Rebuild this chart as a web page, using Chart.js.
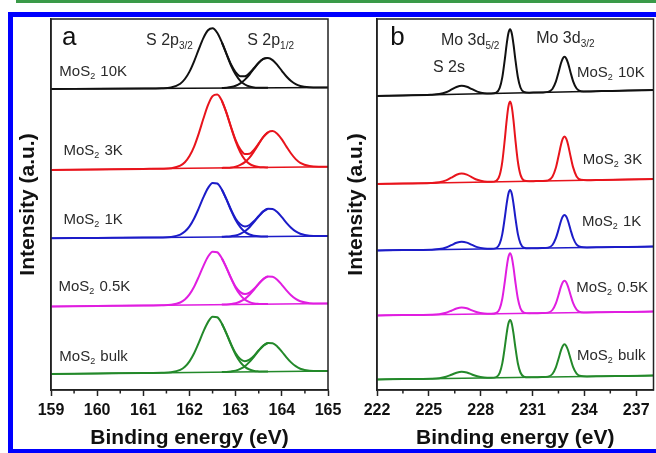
<!DOCTYPE html>
<html><head><meta charset="utf-8">
<script src="https://cdn.jsdelivr.net/npm/chart.js@4"></script>
<style>
html,body{margin:0;padding:0;background:#fff;}
#wrap{position:relative;width:656px;height:453px;overflow:hidden;background:#fff;}
#gline{position:absolute;left:16px;top:0;width:640px;height:3px;background:#3a9a48;}
#frame{position:absolute;left:8px;top:12px;width:700px;height:441px;box-sizing:border-box;border:5px solid #0000ff;border-right:none;border-bottom-width:4px;}
#ca{position:absolute;left:0;top:0;}
#cb{position:absolute;left:330px;top:0;}
</style></head><body>
<div id="wrap"><div id="gline"></div><div id="frame"></div>
<canvas id="ca" width="350" height="453"></canvas>
<canvas id="cb" width="326" height="453"></canvas></div>
<script>
// ---------- Panel a : S 2p region ----------
const energyA = [159,160,161,161.4,161.6,161.8,161.9,162.0,162.1,162.2,162.3,162.4,162.5,162.6,162.7,162.8,162.9,163.0,163.1,163.2,163.3,163.4,163.5,163.6,163.7,163.8,163.9,164.0,164.1,164.2,164.3,164.4,164.6,164.8,165];
const s2p10K  = [301,301.25,301.5,301.7,302.5,306.3,311.0,318.4,328.7,340.6,351.9,359.7,361.8,357.3,347.8,336.4,325.5,317.7,313.7,313.8,316.9,322.0,327.4,331.1,332.1,329.9,325.1,319.2,313.5,309.0,305.8,304.0,302.7,302.45,302.5];
const s2p3K   = [220,220.6,221.1,221.3,221.8,224.3,227.7,233.9,243.4,256.4,271.2,284.9,293.9,295.6,289.4,277.4,263.0,249.9,240.6,236.0,236.2,240.4,246.6,253.2,257.7,259.0,256.3,250.6,243.4,236.5,230.9,227.2,223.9,223.2,223.3];
const s2p1K   = [151.7,152.1,152.5,152.6,153.1,155.4,158.4,163.6,171.5,181.6,192.6,201.9,207.0,206.5,200.5,190.8,180.3,171.3,165.7,163.6,165.0,169.0,174.0,178.7,181.2,180.9,177.9,172.8,167.2,162.3,158.6,156.3,154.3,154.0,154.0];
const s2p05K  = [83.5,84.0,84.5,84.7,85.2,87.5,90.5,95.6,103.3,113.2,123.9,133.2,138.3,137.7,131.8,122.4,112.1,103.3,97.9,95.9,97.4,101.3,106.4,111.0,113.6,113.3,110.3,105.2,99.7,94.8,91.1,88.7,86.8,86.5,86.5];
const s2pBulk = [16.0,16.5,17.0,17.2,17.7,20.1,23.2,28.6,36.7,47.1,58.4,67.9,73.3,72.7,66.5,56.6,45.9,36.7,30.9,28.8,30.4,34.4,39.7,44.4,47.1,46.8,43.6,38.4,32.7,27.6,23.8,21.3,19.3,19.0,19.0];
// fitted components near the overlap
const energyAFit = [162.7,162.8,162.9,163.0,163.1,163.2,163.3,163.4,163.5,163.6,163.7];
const fit32_10K  = [347.7,336.0,324.5,315.4,309.1,305.5,303.5,302.6,302.3,302.15,302.18];
const fit12_10K  = [302.0,302.35,303.0,304.3,306.6,310.4,315.5,321.5,327.2,331.1,332.1];
const fit32_3K   = [289.3,277.2,262.5,248.7,237.8,230.4,226.1,224.0,223.0,222.7,222.5];
const fit12_3K   = [222.1,222.3,222.6,223.4,225.1,227.9,232.4,238.8,246.0,253.0,257.7];
const fit32_1K   = [200.4,190.6,179.7,170.0,162.8,158.1,155.5,154.3,153.7,153.5,153.5];
const fit12_1K   = [153.2,153.4,153.8,154.5,156.2,158.8,162.8,168.1,173.7,178.6,181.2];
const fit32_05K  = [131.8,122.2,111.6,102.0,95.0,90.4,87.9,86.6,86.1,85.9,85.9];
const fit12_05K  = [85.4,85.6,86.0,86.8,88.5,91.1,95.2,100.4,106.1,110.9,113.6];
const fit32_bulk = [66.5,56.4,45.3,35.3,27.9,23.1,20.5,19.1,18.6,18.4,18.4];
const fit12_bulk = [17.9,18.1,18.6,19.4,21.1,23.8,28.1,33.5,39.4,44.3,47.1];
const energyABase = [159,165];
const baseA10K = [301,302.5], baseA3K = [220,223.3], baseA1K = [151.7,154], baseA05K = [83.5,86.5], baseABulk = [16,19];

// ---------- Panel b : Mo 3d / S 2s region ----------
const energyB = [222,223.5,225.1,225.6,226.0,226.3,226.6,226.9,227.2,227.5,227.8,228.2,228.6,228.9,229.1,229.25,229.4,229.5,229.6,229.7,229.8,229.9,230.0,230.15,230.3,230.5,230.8,231.2,231.55,231.9,232.15,232.35,232.5,232.65,232.75,232.85,232.95,233.05,233.2,233.35,233.55,233.8,234.15,235,236.5,238];
const mo10K  = [294.0,294.6,295.2,295.9,297.7,300.3,303.0,304.3,303.3,300.8,298.4,296.8,296.6,297.4,302.1,312.6,331.2,345.3,356.5,360.7,356.5,345.5,331.4,313.0,302.5,298.0,297.3,297.5,297.6,298.1,301.0,308.3,317.3,327.0,331.5,333.3,331.6,327.1,317.6,308.7,301.5,298.8,298.6,298.9,299.4,300.0];
const mo3K   = [206.0,206.5,207.0,207.7,209.6,212.3,215.2,216.5,215.4,212.7,210.2,208.5,208.2,209.2,215.0,228.2,251.4,269.1,283.1,288.4,283.1,269.3,251.6,228.5,215.4,209.7,208.8,208.9,209.0,209.6,213.2,222.2,233.5,245.5,251.3,253.4,251.3,245.7,233.7,222.6,213.6,210.2,209.8,210.1,210.5,211.0];
const mo1K   = [139.5,139.9,140.3,140.9,142.5,144.8,147.2,148.3,147.4,145.1,142.9,141.5,141.2,141.9,146.3,155.9,173.0,185.9,196.1,200.0,196.2,186.0,173.1,156.1,146.6,142.3,141.7,141.8,141.9,142.4,145.0,151.8,160.1,169.2,173.4,175.0,173.4,169.3,160.3,152.0,145.4,142.9,142.5,142.75,143.1,143.5];
const mo05K  = [74.5,74.9,75.3,75.8,77.3,79.3,81.5,82.5,81.7,79.6,77.7,76.5,76.2,77.0,81.4,91.3,108.9,122.2,132.7,136.7,132.8,122.3,109.0,91.5,81.7,77.4,76.7,76.8,76.9,77.4,80.0,86.6,94.8,103.6,107.8,109.3,107.8,103.7,95.0,86.8,80.3,77.8,77.5,77.75,78.1,78.5];
const moBulk = [10.5,10.9,11.3,11.8,13.2,15.2,17.3,18.3,17.5,15.5,13.7,12.5,12.2,12.9,17.2,26.6,43.4,56.2,66.2,70.0,66.3,56.3,43.5,26.8,17.5,13.3,12.7,12.8,12.9,13.4,16.0,22.7,31.0,39.9,44.1,45.7,44.1,40.0,31.2,22.9,16.4,13.9,13.5,13.75,14.1,14.5];
const energyBBase = [222,238];
const baseB10K = [294,300], baseB3K = [206,211], baseB1K = [139.5,143.5], baseB05K = [74.5,78.5], baseBBulk = [10.5,14.5];

// ---------- tick labels / text ----------
const xTitle = 'Binding energy (eV)';
const yTitle = 'Intensity (a.u.)';
const sampleNames = ['MoS|2| 10K','MoS|2| 3K','MoS|2| 1K','MoS|2| 0.5K','MoS|2| bulk'];

const annotationsA = [
  {text:'a', x:159.24, y:345, size:26, color:'#111'},
  {text:'S 2p|3/2|', x:161.06, y:345, size:16},
  {text:'S 2p|1/2|', x:163.25, y:345, size:16},
  {text:sampleNames[0], x:159.18, y:314, size:15},
  {text:sampleNames[1], x:159.27, y:235, size:15},
  {text:sampleNames[2], x:159.27, y:166, size:15},
  {text:sampleNames[3], x:159.16, y:99, size:15},
  {text:sampleNames[4], x:159.18, y:29, size:15}
];
const annotationsB = [
  {text:'b', x:222.77, y:345, size:26, color:'#111'},
  {text:'Mo 3d|5/2|', x:225.70, y:345, size:16},
  {text:'Mo 3d|3/2|', x:231.21, y:347, size:16},
  {text:'S 2s', x:225.24, y:318, size:16},
  {text:sampleNames[0], x:233.57, y:313, size:15},
  {text:sampleNames[1], x:233.91, y:226, size:15},
  {text:sampleNames[2], x:233.86, y:164, size:15},
  {text:sampleNames[3], x:233.53, y:98, size:15},
  {text:sampleNames[4], x:233.57, y:30, size:15}
];

const FONT = '"Liberation Sans", Arial, Helvetica, sans-serif';
const COL = {k:'#111111', r:'#e8141c', b:'#1c1cc8', m:'#e01ee0', g:'#23892a'};

function pts(xs, ys){ return xs.map((x,i)=>({x:x, y:ys[i]})); }
function ln(xs, ys, color, w){
  return {data:pts(xs,ys), borderColor:color, backgroundColor:color, borderWidth:w||2,
    pointRadius:0, fill:false, cubicInterpolationMode:'monotone', tension:0};
}

const decorPlugin = {
  id:'decor',
  afterDraw(chart, args, opts){
    const {ctx, chartArea:a, scales} = chart;
    ctx.save();
    // minor ticks (from the scale's own ticks)
    const xs = scales.x;
    ctx.strokeStyle = '#222'; ctx.lineWidth = 1.5;
    xs.ticks.forEach(t => {
      if (!opts.isMajor(t.value)) {
        const px = xs.getPixelForValue(t.value);
        ctx.beginPath(); ctx.moveTo(px, a.bottom); ctx.lineTo(px, a.bottom + 3.5); ctx.stroke();
      }
    });
    // frame
    ctx.strokeRect(a.left, a.top, a.right - a.left, a.bottom - a.top);
    // text labels
    const ys = scales.y;
    opts.labels.forEach(l => {
      let px = xs.getPixelForValue(l.x);
      const py = ys.getPixelForValue(l.y);
      ctx.fillStyle = l.color || '#2a2a2a';
      ctx.textBaseline = 'alphabetic'; ctx.textAlign = 'left';
      const parts = l.text.split('|');
      parts.forEach((p, i) => {
        if (!p) return;
        const sub = i % 2 === 1;
        const sz = sub ? Math.round(l.size * 0.62) : l.size;
        ctx.font = sz + 'px ' + FONT;
        ctx.fillText(p, px, sub ? py + l.size * 0.22 : py);
        px += ctx.measureText(p).width + (sub ? 1 : 0);
      });
    });
    ctx.restore();
  }
};

function makeChart(id, datasets, xmin, xmax, step, isMajor, yW, yTitlePad, padRight, labels){
  return new Chart(document.getElementById(id), {
    type:'line',
    data:{datasets:datasets},
    options:{
      responsive:false, animation:false, events:[],
      layout:{autoPadding:false, padding:{left:0, top:19, right:padRight, bottom:0}},
      plugins:{legend:{display:false}, tooltip:{enabled:false}, decor:{labels:labels, isMajor:isMajor}},
      scales:{
        x:{type:'linear', min:xmin, max:xmax,
          afterFit:s=>{s.height = 63;},
          border:{display:true, color:'#222', width:1.5},
          grid:{display:true, drawOnChartArea:false, drawTicks:true, tickLength:6, tickWidth:1.5,
                tickColor:c => isMajor(c.tick.value) ? '#222' : 'rgba(0,0,0,0)'},
          ticks:{stepSize:step, includeBounds:false, autoSkip:false, maxRotation:0, padding:5, color:'#111',
                 font:{family:FONT, size:16, weight:'bold'},
                 callback:v => isMajor(v) ? String(v) : ''},
          title:{display:true, text:xTitle, color:'#111', padding:{top:0, bottom:2},
                 font:{family:FONT, size:21, weight:'bold'}}
        },
        y:{type:'linear', min:0, max:371,
          afterFit:s=>{s.width = yW;},
          border:{display:true, color:'#222', width:1.5},
          grid:{display:false}, ticks:{display:false},
          title:{display:true, text:yTitle, color:'#111', padding:{top:yTitlePad, bottom:0},
                 font:{family:FONT, size:21, weight:'bold'}}
        }
      }
    },
    plugins:[decorPlugin]
  });
}

const dsA = [
  ln(energyABase, baseA10K, COL.k, 1.5), ln(energyAFit, fit32_10K, COL.k), ln(energyAFit, fit12_10K, COL.k), ln(energyA, s2p10K, COL.k),
  ln(energyABase, baseA3K, COL.r, 1.5), ln(energyAFit, fit32_3K, COL.r), ln(energyAFit, fit12_3K, COL.r), ln(energyA, s2p3K, COL.r),
  ln(energyABase, baseA1K, COL.b, 1.5), ln(energyAFit, fit32_1K, COL.b), ln(energyAFit, fit12_1K, COL.b), ln(energyA, s2p1K, COL.b),
  ln(energyABase, baseA05K, COL.m, 1.5), ln(energyAFit, fit32_05K, COL.m), ln(energyAFit, fit12_05K, COL.m), ln(energyA, s2p05K, COL.m),
  ln(energyABase, baseABulk, COL.g, 1.5), ln(energyAFit, fit32_bulk, COL.g), ln(energyAFit, fit12_bulk, COL.g), ln(energyA, s2pBulk, COL.g)
];
const dsB = [
  ln(energyBBase, baseB10K, COL.k, 1.5), ln(energyB, mo10K, COL.k),
  ln(energyBBase, baseB3K, COL.r, 1.5), ln(energyB, mo3K, COL.r),
  ln(energyBBase, baseB1K, COL.b, 1.5), ln(energyB, mo1K, COL.b),
  ln(energyBBase, baseB05K, COL.m, 1.5), ln(energyB, mo05K, COL.m),
  ln(energyBBase, baseBBulk, COL.g, 1.5), ln(energyB, moBulk, COL.g)
];

makeChart('ca', dsA, 159, 165, 0.5, v => Math.abs(v - Math.round(v)) < 1e-6, 51, 15.4, 22, annotationsA);
makeChart('cb', dsB, 222, 238, 1.5, v => Math.abs((v - 222) / 3 - Math.round((v - 222) / 3)) < 1e-6, 47, 13.4, 2.5, annotationsB);
</script>
</body></html>
